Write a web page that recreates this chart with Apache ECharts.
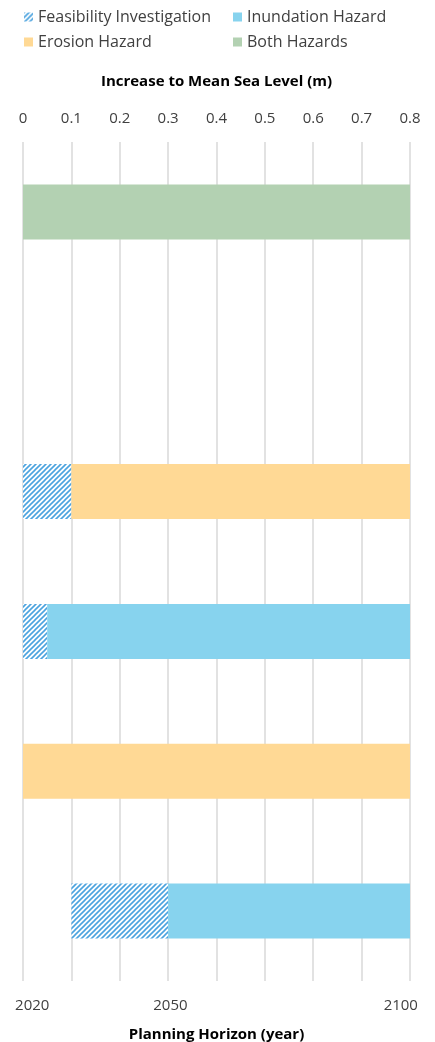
<!DOCTYPE html>
<html><head><meta charset="utf-8">
<script src="https://cdn.jsdelivr.net/npm/echarts@6/dist/echarts.min.js"></script>
<style>html,body{margin:0;padding:0;background:#fff}#c{width:435px;height:1042px}</style>
</head><body><div id="c"></div>
<script>
const categories = ['Row 1','Row 2','Row 3','Row 4','Row 5','Row 6'];
const offsetValues = [0, 0, 0, 0, 0, 0.1];
const feasibility = [0, 0, 0.1, 0.05, 0, 0.2];
const inundation = [0, 0, 0, 0.75, 0, 0.5];
const erosion = [0, 0, 0.7, 0, 0.8, 0];
const both = [0.8, 0, 0, 0, 0, 0];
const yearTicks = [2020, 2050, 2100];
const yearMin = 2018, yearMax = 2102;

const FONT = 'Open Sans';
const tile = document.createElement('canvas');
tile.width = 5; tile.height = 5;
const tctx = tile.getContext('2d');
tctx.fillStyle = '#ffffff'; tctx.fillRect(0,0,5,5);
tctx.strokeStyle = '#4ba3df'; tctx.lineWidth = 1.6;
[[0,5,5,0],[-1,1,1,-1],[4,6,6,4]].forEach(l=>{tctx.beginPath();tctx.moveTo(l[0],l[1]);tctx.lineTo(l[2],l[3]);tctx.stroke();});
const hatch = {image: tile, repeat: 'repeat'};

const chart = echarts.init(document.getElementById('c'));
const barW = 55;
function s(name, data, color, extra){
  return Object.assign({name, type:'bar', stack:'a', data, barWidth:barW, itemStyle:{color}}, extra||{});
}
const legendText = {fontFamily: FONT, fontSize: 16, color: '#404040'};
const legendCommon = {orient:'vertical', top:9, itemWidth:9, itemHeight:9, itemGap:9, textStyle:legendText, icon:'rect', padding:0};
chart.setOption({
  animation:false,
  legend:[
    Object.assign({data:['Feasibility Investigation','Erosion Hazard'], left:24}, legendCommon),
    Object.assign({data:['Inundation Hazard','Both Hazards'], left:233}, legendCommon)
  ],
  grid:{left:23, right:25, top:142, bottom:61, outerBoundsMode:'none', containLabel:false},
  xAxis:[
    {type:'value', position:'top', min:0, max:0.8, interval:0.1,
     name:'Increase to Mean Sea Level (m)', nameLocation:'middle', nameGap:53,
     nameTextStyle:{fontFamily:FONT, fontSize:15, fontWeight:'bold', color:'#000'},
     axisLine:{show:false}, axisTick:{show:false},
     axisLabel:{margin:16, fontFamily:FONT, fontSize:15, color:'#404040'},
     splitLine:{show:true, lineStyle:{color:'#d9d9d9', width:1.5}}},
    {type:'value', position:'bottom', min:yearMin, max:yearMax,
     name:'Planning Horizon (year)', nameLocation:'middle', nameGap:46,
     nameTextStyle:{fontFamily:FONT, fontSize:15, fontWeight:'bold', color:'#000'},
     axisLine:{show:false}, axisTick:{show:false}, splitLine:{show:false},
     axisLabel:{margin:17, fontFamily:FONT, fontSize:15, color:'#404040', customValues:yearTicks, formatter:v=>String(v)}}
  ],
  yAxis:{type:'category', data:categories, inverse:true, axisLine:{show:false}, axisTick:{show:false}, axisLabel:{show:false}},
  series:[
    s('Offset', offsetValues, 'rgba(0,0,0,0)', {silent:true}),
    s('Feasibility Investigation', feasibility, hatch),
    s('Inundation Hazard', inundation, '#87d3ee'),
    s('Erosion Hazard', erosion, '#ffd995'),
    s('Both Hazards', both, '#b3d1b2')
  ]
});
</script></body></html>
